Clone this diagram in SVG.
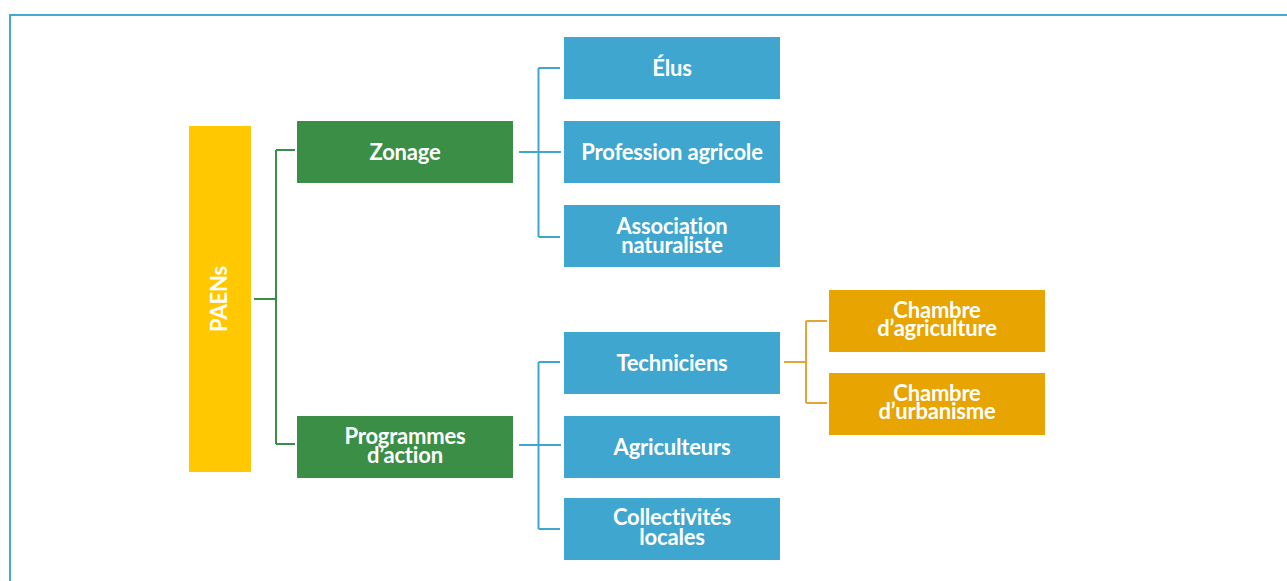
<svg xmlns="http://www.w3.org/2000/svg" width="1287" height="581" viewBox="0 0 1287 581">
<style>
.t{font-family:Lato,"Noto Sans","Liberation Sans",sans-serif;font-weight:700;font-size:22px;fill:#fff;text-anchor:middle;letter-spacing:-0.2px}
.y{fill:#FFC800}.g{fill:#3B8E46}.b{fill:#3EA6CF}.o{fill:#E8A400}
.cg{fill:none;stroke:#3B8E46;stroke-width:2}
.cb{fill:none;stroke:#3EA6CF;stroke-width:2}
.co{fill:none;stroke:#E3A43A;stroke-width:2}
</style>
<rect x="0" y="0" width="1287" height="581" fill="#fff"/>
<rect x="10" y="15" width="1300" height="600" fill="none" stroke="#40AAD3" stroke-width="2"/>
<g id="connectors">
<path class="cg" d="M254 299H276M276 150V444M276 150H295M276 444H295"/>
<path class="cb" d="M519 152H561M538.5 68V237M538.5 68H560M538.5 237H560"/>
<path class="cb" d="M519 445H561M538.5 362V529M538.5 362H560M538.5 529H560"/>
<path class="co" d="M784 362H806M806 321V403M806 321H827M806 403H827"/>
</g>
<g id="paens"><rect class="y" x="189" y="126" width="62" height="346"/><text class="t" transform="translate(227 299) rotate(-90)">PAENs</text></g>
<g id="zonage"><rect class="g" x="297" y="121" width="216" height="62"/><text class="t" x="405" y="160">Zonage</text></g>
<g id="programmes"><rect class="g" x="297" y="416" width="216" height="62"/><text class="t" x="405" y="444">Programmes</text><text class="t" x="405" y="463">d’action</text></g>
<g id="elus"><rect class="b" x="564" y="37" width="216" height="62"/><text class="t" x="672" y="76">Élus</text></g>
<g id="profession"><rect class="b" x="564" y="121" width="216" height="62"/><text class="t" x="672" y="160">Profession agricole</text></g>
<g id="association"><rect class="b" x="564" y="205" width="216" height="62"/><text class="t" x="672" y="234">Association</text><text class="t" x="672" y="253">naturaliste</text></g>
<g id="techniciens"><rect class="b" x="564" y="332" width="216" height="62"/><text class="t" x="672" y="371">Techniciens</text></g>
<g id="agriculteurs"><rect class="b" x="564" y="416" width="216" height="62"/><text class="t" x="672" y="455">Agriculteurs</text></g>
<g id="collectivites"><rect class="b" x="564" y="498" width="216" height="62"/><text class="t" x="672" y="525">Collectivités</text><text class="t" x="672" y="545">locales</text></g>
<g id="chambre-agri"><rect class="o" x="829" y="290" width="216" height="62"/><text class="t" x="937" y="318">Chambre</text><text class="t" x="937" y="336">d’agriculture</text></g>
<g id="chambre-urba"><rect class="o" x="829" y="373" width="216" height="62"/><text class="t" x="937" y="401">Chambre</text><text class="t" x="937" y="419">d’urbanisme</text></g>
</svg>
